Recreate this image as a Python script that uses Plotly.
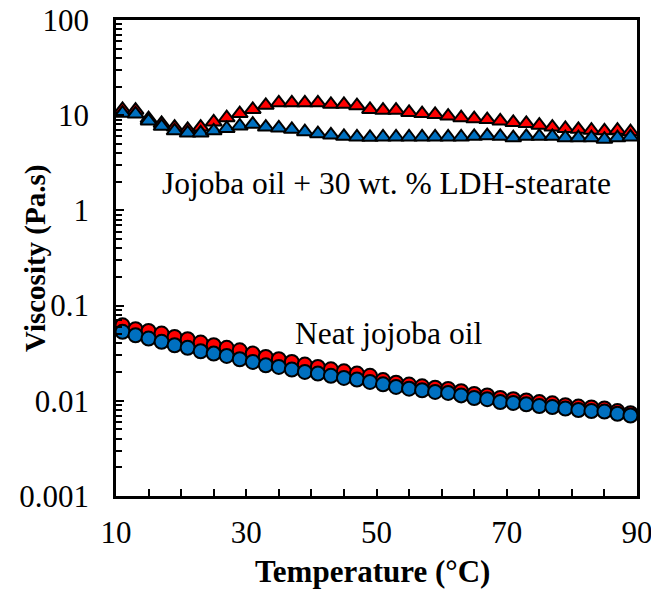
import plotly.graph_objects as go

# Temperature (°C)
temperature = [11, 13, 15, 17, 19, 21, 23, 25, 27, 29, 31, 33, 35, 37, 39, 41, 43, 45, 47, 49,
               51, 53, 55, 57, 59, 61, 63, 65, 67, 69, 71, 73, 75, 77, 79, 81, 83, 85, 87, 89]

# Jojoba oil + 30 wt.% LDH-stearate (Pa.s) - two runs
ldh_red = [11.5, 11.3, 9.2, 8.2, 7.5, 7.1, 7.5, 8.5, 9.4, 10.4,
           11.5, 12.7, 13.5, 13.5, 13.5, 13.5, 13.0, 13.0, 12.6, 11.5,
           11.3, 11.3, 10.7, 10.4, 10.2, 9.8, 9.4, 9.2, 9.0, 8.7,
           8.4, 8.2, 7.85, 7.5, 7.25, 7.1, 6.95, 6.85, 6.95, 6.7]
ldh_blue = [10.5, 10.3, 8.7, 7.65, 6.85, 6.5, 6.5, 6.85, 7.25, 7.7,
            8.05, 7.5, 7.35, 7.1, 6.7, 6.4, 6.2, 6.0, 5.9, 5.85,
            5.9, 5.9, 5.9, 5.9, 5.9, 5.9, 5.9, 6.0, 6.1, 6.0,
            5.8, 6.0, 6.0, 6.0, 5.8, 5.8, 5.8, 5.6, 5.8, 5.9]

# Neat jojoba oil (Pa.s) - two runs
neat_red = [0.0621, 0.0564, 0.0542, 0.0508, 0.0469, 0.0443, 0.0409, 0.0383, 0.0360, 0.0339,
            0.0313, 0.0289, 0.0273, 0.0256, 0.0240, 0.0227, 0.0214, 0.0204, 0.0193, 0.0183,
            0.0165, 0.0155, 0.0148, 0.0142, 0.0137, 0.0133, 0.0126, 0.0118, 0.0114, 0.0107,
            0.0104, 0.0101, 0.0097, 0.0094, 0.0090, 0.0087, 0.0085, 0.0083, 0.0078, 0.0074]
neat_blue = [0.0530, 0.0488, 0.0450, 0.0416, 0.0383, 0.0360, 0.0331, 0.0313, 0.0296, 0.0273,
             0.0256, 0.0236, 0.0227, 0.0213, 0.0201, 0.0193, 0.0183, 0.0174, 0.0167, 0.0158,
             0.0149, 0.0140, 0.0134, 0.0129, 0.0124, 0.0121, 0.0114, 0.0107, 0.0104, 0.0097,
             0.0095, 0.0092, 0.0088, 0.0086, 0.0083, 0.0080, 0.0078, 0.0077, 0.0073, 0.0070]

y_tickvals = [0.001, 0.01, 0.1, 1, 10, 100]
y_ticktext = ["0.001", "0.01", "0.1", "1", "10", "100"]
x_tickvals = [10, 30, 50, 70, 90]

RED = "#FF0000"
BLUE = "#0070C0"
FONT = "Liberation Serif"

fig = go.Figure()

def add(y, color, symbol, size):
    fig.add_trace(go.Scatter(
        x=temperature, y=y, mode="markers",
        marker=dict(symbol=symbol, size=size, color=color,
                    line=dict(color="black", width=2)),
        showlegend=False, cliponaxis=False))

add(ldh_red, RED, "triangle-up", 14)
add(ldh_blue, BLUE, "triangle-up", 14)
add(neat_red, RED, "circle", 14)
add(neat_blue, BLUE, "circle", 14)

minor_y = [m * 10 ** e for e in range(-3, 2) for m in range(2, 10)]

fig.update_layout(
    width=651, height=589,
    margin=dict(l=116, r=14, t=20, b=93),
    paper_bgcolor="white", plot_bgcolor="white",
    font=dict(family=FONT, size=31, color="black"),
    xaxis=dict(range=[10, 90], tickvals=x_tickvals, ticks="inside", ticklen=7, tickwidth=1.5,
               tickcolor="black", showline=True, linecolor="black", linewidth=2.5, mirror=True,
               showgrid=False, zeroline=False, ticklabelstandoff=7, automargin=False,
               ticklabeloverflow="allow",
               tickfont=dict(family=FONT, size=31),
               minor=dict(dtick=5, tick0=10, ticks="inside", ticklen=7, tickwidth=1.5, tickcolor="black", showgrid=False)),
    yaxis=dict(type="log", range=[-3, 2], tickvals=y_tickvals, ticktext=y_ticktext,
               ticks="inside", ticklen=8, tickwidth=1.5, tickcolor="black",
               showline=True, linecolor="black", linewidth=2.5, mirror=True,
               showgrid=False, zeroline=False, ticklabelstandoff=18, automargin=False,
               ticklabeloverflow="allow",
               tickfont=dict(family=FONT, size=31),
               minor=dict(tickvals=minor_y, ticks="inside", ticklen=6, tickwidth=1.5, tickcolor="black", showgrid=False)),
    annotations=[
        dict(text="Jojoba oil + 30 wt. % LDH-stearate", x=51.5, y=0.285, xref="x", yref="y",
             xanchor="center", yanchor="middle",
             showarrow=False, font=dict(family=FONT, size=31.5)),
        dict(text="Neat jojoba oil", x=51.8, y=-1.294, xref="x", yref="y",
             xanchor="center", yanchor="middle",
             showarrow=False, font=dict(family=FONT, size=31.5)),
        dict(text="<b>Temperature (°C)</b>", x=0.493, y=-0.158, xref="paper", yref="paper",
             xanchor="center", yanchor="middle",
             showarrow=False, font=dict(family=FONT, size=31)),
        dict(text="<b>Viscosity (Pa.s)</b>", x=-0.1555, y=0.5, xref="paper", yref="paper",
             xanchor="center", yanchor="middle",
             showarrow=False, textangle=-90, font=dict(family=FONT, size=29)),
    ],
)

fig.write_html("out.html")
